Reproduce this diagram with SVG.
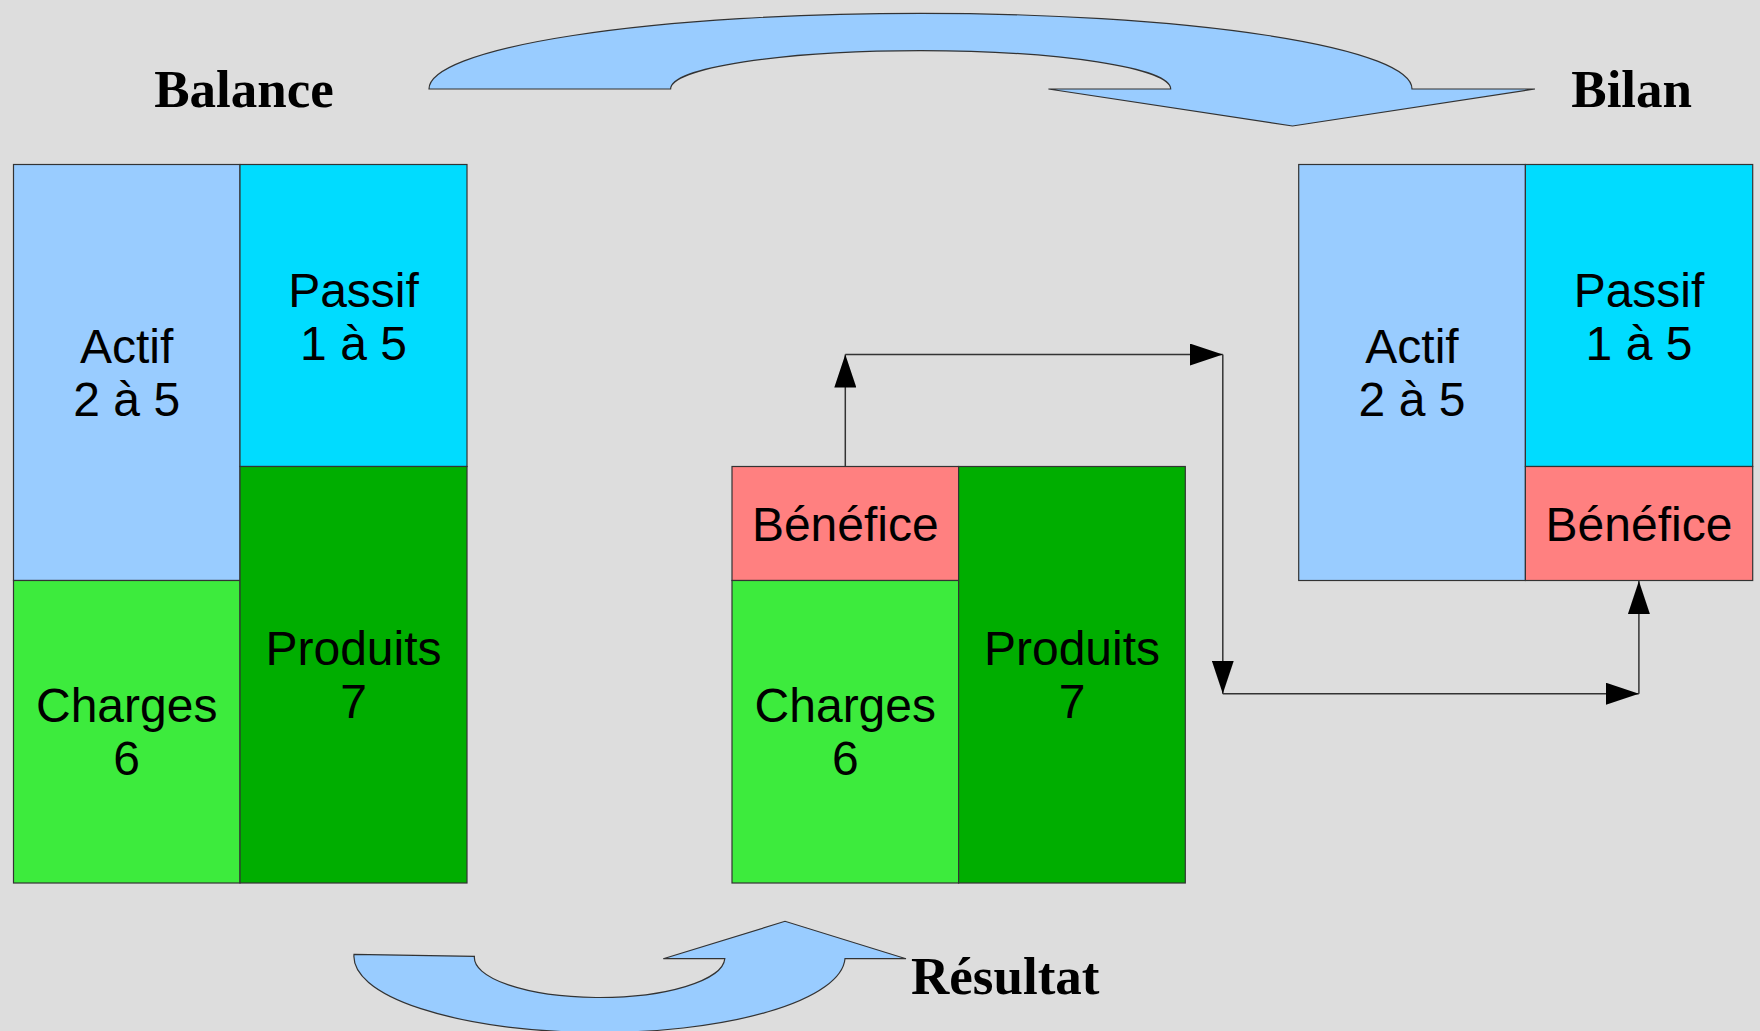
<svg xmlns="http://www.w3.org/2000/svg" width="1760" height="1031" viewBox="0 0 1760 1031">
<style>
.cell{stroke:#333;stroke-width:1.2}
.actif{fill:#99ccff}.passif{fill:#00dcff}.charges{fill:#3deb3d}.produits{fill:#00ae00}.benef{fill:#ff8080}
.lbl{font-family:"Liberation Sans",Arial,sans-serif;font-size:48px;fill:#000;text-anchor:middle}
.title{font-family:"Liberation Serif","Times New Roman",serif;font-size:53px;font-weight:bold;fill:#000}
.big{fill:#99ccff;stroke:#333;stroke-width:1.2}
.conn{stroke:#333;stroke-width:1.5;fill:none;marker-end:url(#ah)}
</style>
<defs>
<marker id="ah" markerUnits="userSpaceOnUse" markerWidth="34" markerHeight="22" refX="33" refY="11" orient="auto">
<path d="M0,0 L33,11 L0,22 Z" fill="#000"/>
</marker>
</defs>
<rect x="0" y="0" width="1760" height="1031" fill="#dddddd"/>

<g id="title-balance"><text class="title" x="244" y="106.7" text-anchor="middle">Balance</text></g>
<g id="title-bilan"><text class="title" x="1631.7" y="106.7" text-anchor="middle">Bilan</text></g>
<g id="title-resultat"><text class="title" x="911" y="994.3">Résultat</text></g>

<g id="arrow-top"><path class="big" d="M429,89 A491.5,75.7 0 0 1 1412,89 L1535,89 L1292.5,126 L1048.4,89 L1170.7,89 A250,38.3 0 0 0 670.6,89 Z"/></g>
<g id="arrow-bottom"><path class="big" d="M354,954.3 L474.4,956.3 A125.2,40 0 0 0 724.8,958.7 L663.3,958.7 L785,921.3 L906,958.7 L845,958.7 A245.5,76 0 0 1 354,954.3 Z"/></g>

<g id="balance-actif"><rect class="cell actif" x="13.5" y="164.5" width="226.5" height="416"/><text class="lbl" x="126.7" y="362.7">Actif</text><text class="lbl" x="126.7" y="416">2 à 5</text></g>
<g id="balance-passif"><rect class="cell passif" x="240" y="164.5" width="227" height="302"/><text class="lbl" x="353.5" y="306.7">Passif</text><text class="lbl" x="353.5" y="360">1 à 5</text></g>
<g id="balance-charges"><rect class="cell charges" x="13.5" y="580.5" width="226.5" height="302.5"/><text class="lbl" x="126.7" y="721.7">Charges</text><text class="lbl" x="126.7" y="775">6</text></g>
<g id="balance-produits"><rect class="cell produits" x="240" y="466.5" width="227" height="416.5"/><text class="lbl" x="353.5" y="665">Produits</text><text class="lbl" x="353.5" y="718.3">7</text></g>

<g id="resultat-benefice"><rect class="cell benef" x="732" y="466.5" width="226.6" height="114"/><text class="lbl" x="845.3" y="540.5">Bénéfice</text></g>
<g id="resultat-charges"><rect class="cell charges" x="732" y="580.5" width="226.6" height="302.5"/><text class="lbl" x="845.3" y="721.7">Charges</text><text class="lbl" x="845.3" y="775">6</text></g>
<g id="resultat-produits"><rect class="cell produits" x="958.6" y="466.5" width="226.7" height="416.5"/><text class="lbl" x="1072" y="665">Produits</text><text class="lbl" x="1072" y="718.3">7</text></g>

<g id="bilan-actif"><rect class="cell actif" x="1298.7" y="164.5" width="226.7" height="416"/><text class="lbl" x="1412" y="362.7">Actif</text><text class="lbl" x="1412" y="416">2 à 5</text></g>
<g id="bilan-passif"><rect class="cell passif" x="1525.4" y="164.5" width="227.3" height="302"/><text class="lbl" x="1639" y="306.7">Passif</text><text class="lbl" x="1639" y="360">1 à 5</text></g>
<g id="bilan-benefice"><rect class="cell benef" x="1525.4" y="466.5" width="227.3" height="114"/><text class="lbl" x="1639" y="540.5">Bénéfice</text></g>

<g id="connectors">
<line class="conn" x1="845.3" y1="466.5" x2="845.3" y2="354.5"/>
<line class="conn" x1="845.3" y1="354.5" x2="1222.8" y2="354.5"/>
<line class="conn" x1="1222.8" y1="354.5" x2="1222.8" y2="693.7"/>
<line class="conn" x1="1222.8" y1="693.7" x2="1638.9" y2="693.7"/>
<line class="conn" x1="1638.9" y1="693.7" x2="1638.9" y2="581"/>
</g>
</svg>
